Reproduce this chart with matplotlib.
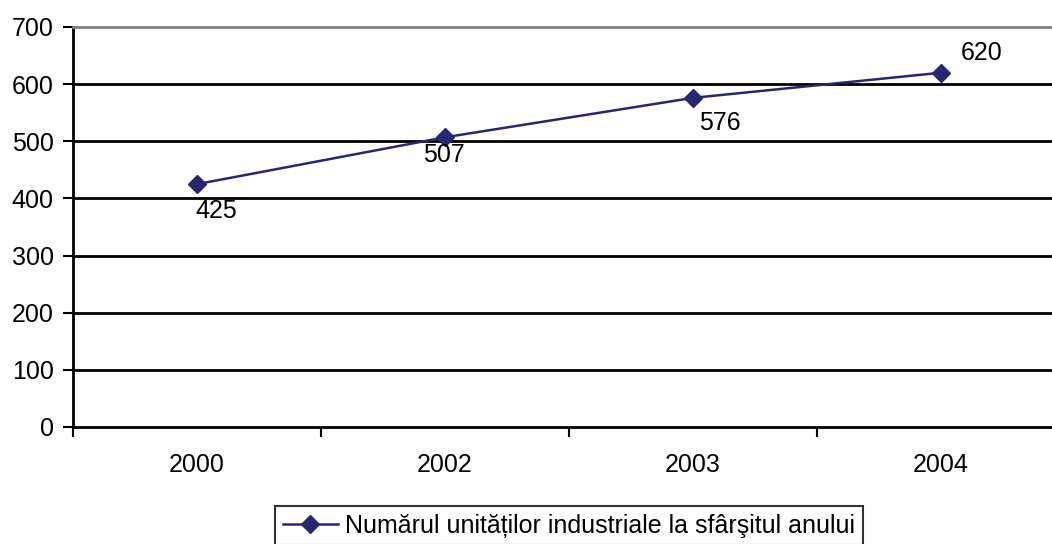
import matplotlib.pyplot as plt
import numpy as np

plt.rcParams['font.family'] = ['Liberation Sans', 'DejaVu Sans']

# Data
years = ['2000', '2002', '2003', '2004']
units = [425, 507, 576, 620]
series_label = 'Numărul unităților industriale la sfârşitul anului'

fig = plt.figure(figsize=(10.52, 5.44), dpi=100)
ax = fig.add_axes([73 / 1052, 1 - 427 / 544, 992 / 1052, 400 / 544])

x = np.arange(len(years))
line, = ax.plot(x, units, color='#262673', lw=1.8, marker='D', markersize=9,
                markerfacecolor='#262673', markeredgecolor='#262673', zorder=3)

# value labels
offsets = [(14, -19), (-1, -13), (19, -18), (29, 14)]
for xi, v, off in zip(x, units, offsets):
    ax.annotate(str(v), (xi, v), xytext=off, textcoords='offset points',
                ha='center', va='center', fontsize=18)

ax.set_xlim(-0.5, len(years) - 0.5)
ax.set_ylim(0, 700)
ax.set_yticks(range(0, 701, 100))
for yv in range(100, 700, 100):
    ax.axhline(yv, color='black', lw=2, zorder=1)

ax.set_xticks(x)
ax.set_xticklabels(years)
ax.set_xticks(np.arange(-0.5, len(years)), minor=True)
ax.tick_params(axis='x', which='major', length=0, pad=19, labelsize=18)
ax.tick_params(axis='x', which='minor', length=7, width=1.5, direction='out')
ax.tick_params(axis='y', length=7, width=1.5, labelsize=18, pad=7)

ax.spines['top'].set_color('#808080')
ax.spines['top'].set_linewidth(2)
ax.spines['right'].set_visible(False)
ax.spines['left'].set_linewidth(2)
ax.spines['bottom'].set_linewidth(2)

leg = fig.legend([line], [series_label], loc='upper center',
                 bbox_to_anchor=(569 / 1052, 1 - 506 / 544), fontsize=18,
                 frameon=True, fancybox=False, edgecolor='black',
                 handlelength=2.2, handletextpad=0.3, borderpad=0.3,
                 borderaxespad=0)
leg.get_frame().set_linewidth(1.5)

fig.savefig('out.png', dpi=100)
